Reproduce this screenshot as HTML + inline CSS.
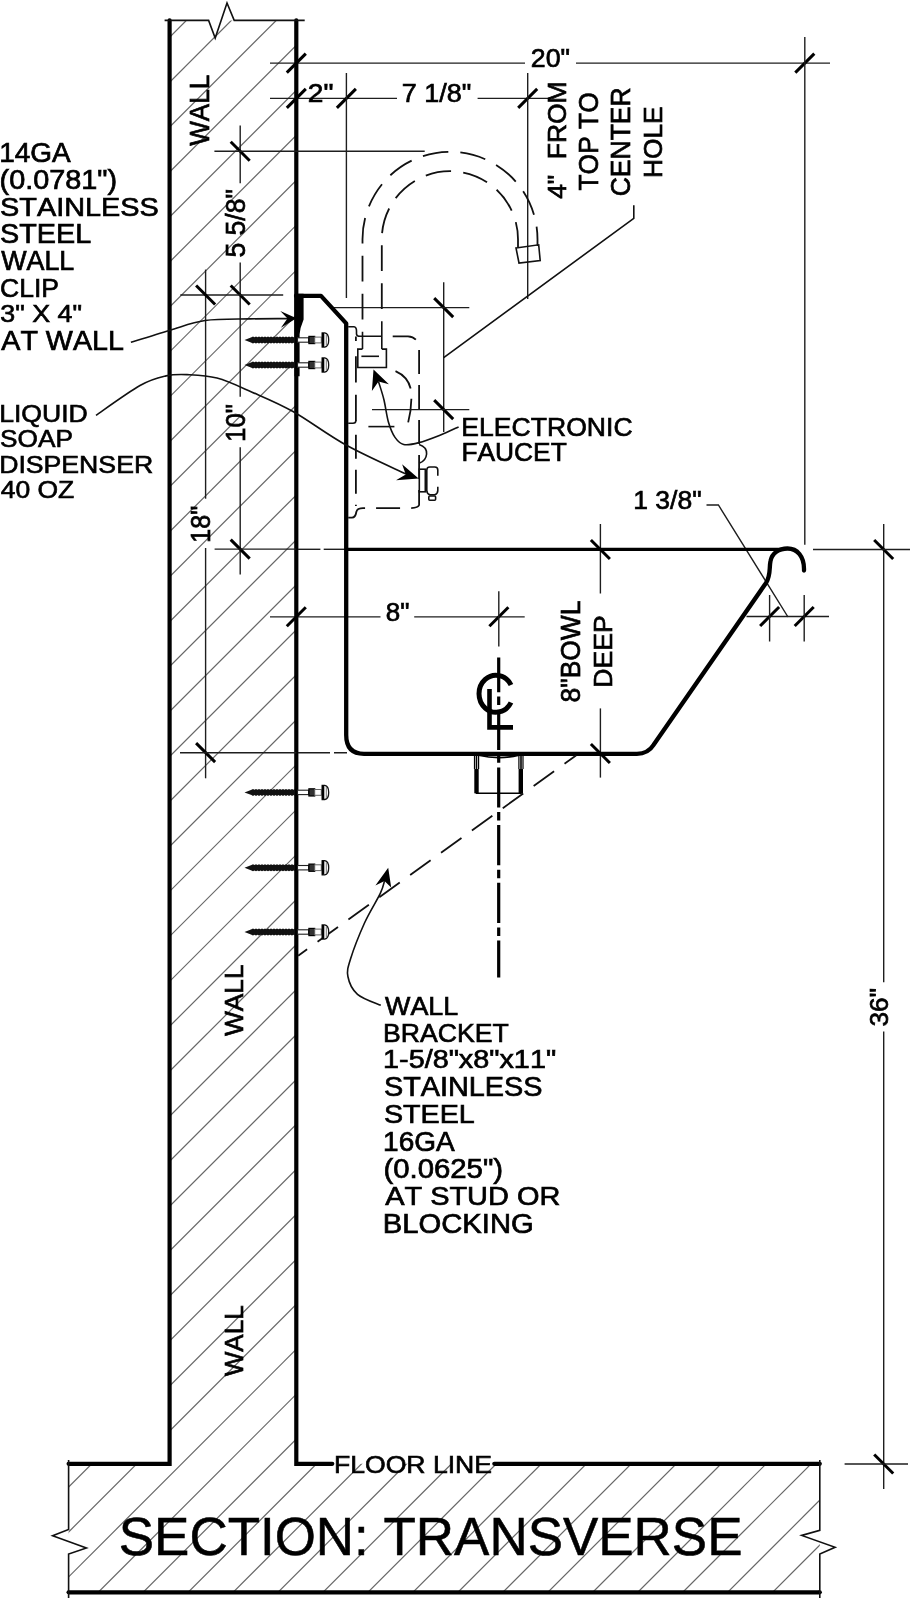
<!DOCTYPE html>
<html><head><meta charset="utf-8"><style>
html,body{margin:0;padding:0;background:#fff;width:910px;height:1600px;overflow:hidden;}
svg{display:block;filter:grayscale(100%);}
text{font-family:"Liberation Sans",sans-serif;fill:#000;stroke:#000;font-kerning:none;}
.t{stroke:#1e1e1e;stroke-width:1.4;fill:none;}
.h{stroke:#666;stroke-width:1.2;fill:none;}
.k{stroke:#000;stroke-width:3;fill:none;stroke-linecap:butt;}
.W{stroke:#000;stroke-width:4.2;fill:none;stroke-linejoin:miter;stroke-linecap:round;}
.S{stroke:#000;stroke-width:4.3;fill:none;stroke-linejoin:round;stroke-linecap:round;}
.d{stroke:#111;stroke-width:1.8;fill:none;}
.m{stroke:#111;stroke-width:1.6;fill:none;}
</style></head><body>
<svg width="910" height="1600" viewBox="0 0 910 1600">
<defs><clipPath id="hc"><polygon points="169.6,20.4 296.3,20.4 296.3,1463.8 819.8,1463.8 819.8,1592.3 68.6,1592.3 68.6,1463.8 169.6,1463.8"/></clipPath></defs>
<g clip-path="url(#hc)">
<line x1="0.0" y1="116.9" x2="910.0" y2="-793.1" class="h"/>
<line x1="0.0" y1="161.8" x2="910.0" y2="-748.2" class="h"/>
<line x1="0.0" y1="206.8" x2="910.0" y2="-703.2" class="h"/>
<line x1="0.0" y1="251.8" x2="910.0" y2="-658.2" class="h"/>
<line x1="0.0" y1="296.7" x2="910.0" y2="-613.3" class="h"/>
<line x1="0.0" y1="341.7" x2="910.0" y2="-568.3" class="h"/>
<line x1="0.0" y1="386.6" x2="910.0" y2="-523.4" class="h"/>
<line x1="0.0" y1="431.6" x2="910.0" y2="-478.4" class="h"/>
<line x1="0.0" y1="476.6" x2="910.0" y2="-433.4" class="h"/>
<line x1="0.0" y1="521.5" x2="910.0" y2="-388.5" class="h"/>
<line x1="0.0" y1="566.5" x2="910.0" y2="-343.5" class="h"/>
<line x1="0.0" y1="611.4" x2="910.0" y2="-298.6" class="h"/>
<line x1="0.0" y1="656.4" x2="910.0" y2="-253.6" class="h"/>
<line x1="0.0" y1="701.4" x2="910.0" y2="-208.6" class="h"/>
<line x1="0.0" y1="746.3" x2="910.0" y2="-163.7" class="h"/>
<line x1="0.0" y1="791.3" x2="910.0" y2="-118.7" class="h"/>
<line x1="0.0" y1="836.2" x2="910.0" y2="-73.8" class="h"/>
<line x1="0.0" y1="881.2" x2="910.0" y2="-28.8" class="h"/>
<line x1="0.0" y1="926.2" x2="910.0" y2="16.2" class="h"/>
<line x1="0.0" y1="971.1" x2="910.0" y2="61.1" class="h"/>
<line x1="0.0" y1="1016.1" x2="910.0" y2="106.1" class="h"/>
<line x1="0.0" y1="1061.0" x2="910.0" y2="151.0" class="h"/>
<line x1="0.0" y1="1106.0" x2="910.0" y2="196.0" class="h"/>
<line x1="0.0" y1="1151.0" x2="910.0" y2="241.0" class="h"/>
<line x1="0.0" y1="1195.9" x2="910.0" y2="285.9" class="h"/>
<line x1="0.0" y1="1240.9" x2="910.0" y2="330.9" class="h"/>
<line x1="0.0" y1="1285.8" x2="910.0" y2="375.8" class="h"/>
<line x1="0.0" y1="1330.8" x2="910.0" y2="420.8" class="h"/>
<line x1="0.0" y1="1375.8" x2="910.0" y2="465.8" class="h"/>
<line x1="0.0" y1="1420.7" x2="910.0" y2="510.7" class="h"/>
<line x1="0.0" y1="1465.7" x2="910.0" y2="555.7" class="h"/>
<line x1="0.0" y1="1510.6" x2="910.0" y2="600.6" class="h"/>
<line x1="0.0" y1="1555.6" x2="910.0" y2="645.6" class="h"/>
<line x1="0.0" y1="1600.6" x2="910.0" y2="690.6" class="h"/>
<line x1="0.0" y1="1645.5" x2="910.0" y2="735.5" class="h"/>
<line x1="0.0" y1="1690.5" x2="910.0" y2="780.5" class="h"/>
<line x1="0.0" y1="1735.4" x2="910.0" y2="825.4" class="h"/>
<line x1="0.0" y1="1780.4" x2="910.0" y2="870.4" class="h"/>
<line x1="0.0" y1="1825.4" x2="910.0" y2="915.4" class="h"/>
<line x1="0.0" y1="1870.3" x2="910.0" y2="960.3" class="h"/>
<line x1="0.0" y1="1915.3" x2="910.0" y2="1005.3" class="h"/>
<line x1="0.0" y1="1960.2" x2="910.0" y2="1050.2" class="h"/>
<line x1="0.0" y1="2005.2" x2="910.0" y2="1095.2" class="h"/>
<line x1="0.0" y1="2050.2" x2="910.0" y2="1140.2" class="h"/>
<line x1="0.0" y1="2095.1" x2="910.0" y2="1185.1" class="h"/>
<line x1="0.0" y1="2140.1" x2="910.0" y2="1230.1" class="h"/>
<line x1="0.0" y1="2185.0" x2="910.0" y2="1275.0" class="h"/>
<line x1="0.0" y1="2230.0" x2="910.0" y2="1320.0" class="h"/>
<line x1="0.0" y1="2275.0" x2="910.0" y2="1365.0" class="h"/>
<line x1="0.0" y1="2319.9" x2="910.0" y2="1409.9" class="h"/>
<line x1="0.0" y1="2364.9" x2="910.0" y2="1454.9" class="h"/>
<line x1="0.0" y1="2409.8" x2="910.0" y2="1499.8" class="h"/>
</g>
<path d="M169.6 20.4 V1463.8 H68.6" class="W"/>
<path d="M296.3 20.4 V1463.8 H332.3" class="W"/>
<path d="M494.3 1463.8 H819.8" class="W"/>
<path d="M68.6 1592.3 H819.8" class="W"/>
<path d="M164.6 20.4 H208.6 L215.2 38 L227 3 L234.2 20.4 H304.7" class="m"/>
<path d="M68.6 1460 V1529.5 L52.6 1535.8 L86.4 1548 L68.6 1554 V1598" class="m"/>
<path d="M819.8 1460 V1530.3 L801.7 1535.4 L835.1 1547.3 L819.8 1554.1 V1598" class="m"/>
<line x1="270.0" y1="63.1" x2="525.0" y2="63.1" class="t"/>
<line x1="576.0" y1="63.1" x2="830.0" y2="63.1" class="t"/>
<line x1="286.8" y1="72.6" x2="305.8" y2="53.6" class="k"/>
<line x1="795.3" y1="72.6" x2="814.3" y2="53.6" class="k"/>
<line x1="804.8" y1="37.0" x2="804.8" y2="544.7" class="t"/>
<line x1="270.0" y1="98.4" x2="397.0" y2="98.4" class="t"/>
<line x1="477.6" y1="98.4" x2="551.0" y2="98.4" class="t"/>
<line x1="286.8" y1="107.9" x2="305.8" y2="88.9" class="k"/>
<line x1="336.9" y1="107.9" x2="355.9" y2="88.9" class="k"/>
<line x1="518.2" y1="107.9" x2="537.2" y2="88.9" class="k"/>
<line x1="346.4" y1="73.0" x2="346.4" y2="298.0" class="t"/>
<line x1="527.7" y1="73.0" x2="527.7" y2="299.0" class="t"/>
<line x1="270.0" y1="616.9" x2="380.5" y2="616.9" class="t"/>
<line x1="414.2" y1="616.9" x2="524.7" y2="616.9" class="t"/>
<line x1="286.8" y1="626.3" x2="305.8" y2="607.3" class="k"/>
<line x1="489.4" y1="626.3" x2="508.4" y2="607.3" class="k"/>
<line x1="498.8" y1="591.3" x2="498.8" y2="646.4" class="t"/>
<line x1="746.5" y1="616.5" x2="829.0" y2="616.5" class="t"/>
<line x1="760.1" y1="626.0" x2="779.1" y2="607.0" class="k"/>
<line x1="794.7" y1="626.0" x2="813.7" y2="607.0" class="k"/>
<line x1="769.6" y1="595.0" x2="769.6" y2="641.5" class="t"/>
<line x1="804.2" y1="595.0" x2="804.2" y2="641.5" class="t"/>
<path d="M706.5 505 H718.4 L788 617" class="t"/>
<line x1="240.2" y1="125.4" x2="240.2" y2="183.3" class="t"/>
<line x1="240.2" y1="262.6" x2="240.2" y2="396.8" class="t"/>
<line x1="240.2" y1="447.2" x2="240.2" y2="574.5" class="t"/>
<line x1="230.7" y1="141.7" x2="249.7" y2="160.7" class="k"/>
<line x1="230.7" y1="285.5" x2="249.7" y2="304.5" class="k"/>
<line x1="230.7" y1="539.6" x2="249.7" y2="558.6" class="k"/>
<line x1="214.4" y1="151.2" x2="424.7" y2="151.2" class="t"/>
<line x1="180.3" y1="295.0" x2="283.2" y2="295.0" class="t"/>
<line x1="214.6" y1="549.1" x2="296.3" y2="549.1" class="t"/>
<line x1="298.0" y1="549.3" x2="320.4" y2="549.3" class="t"/>
<line x1="323.7" y1="549.3" x2="346.0" y2="549.3" class="t"/>
<line x1="205.6" y1="269.6" x2="205.6" y2="498.7" class="t"/>
<line x1="205.6" y1="548.0" x2="205.6" y2="778.3" class="t"/>
<line x1="196.1" y1="285.5" x2="215.1" y2="304.5" class="k"/>
<line x1="196.1" y1="743.1" x2="215.1" y2="762.1" class="k"/>
<line x1="180.0" y1="752.8" x2="296.3" y2="752.8" class="t"/>
<line x1="298" y1="752.8" x2="347" y2="752.8" class="t" stroke-dasharray="32 4"/>
<line x1="600.4" y1="524.0" x2="600.4" y2="593.5" class="t"/>
<line x1="600.4" y1="708.4" x2="600.4" y2="777.6" class="t"/>
<line x1="590.9" y1="540.0" x2="609.9" y2="559.0" class="k"/>
<line x1="590.9" y1="744.0" x2="609.9" y2="763.0" class="k"/>
<line x1="883.7" y1="524.0" x2="883.7" y2="982.3" class="t"/>
<line x1="883.7" y1="1031.5" x2="883.7" y2="1489.0" class="t"/>
<line x1="874.2" y1="540.0" x2="893.2" y2="559.0" class="k"/>
<line x1="874.2" y1="1454.5" x2="893.2" y2="1473.5" class="k"/>
<line x1="813.0" y1="549.5" x2="910.0" y2="549.5" class="t"/>
<line x1="844.6" y1="1464.0" x2="908.0" y2="1464.0" class="t"/>
<line x1="443.7" y1="282.3" x2="443.7" y2="431.9" class="t"/>
<line x1="434.2" y1="298.1" x2="453.2" y2="317.1" class="k"/>
<line x1="434.2" y1="400.1" x2="453.2" y2="419.1" class="k"/>
<line x1="334.0" y1="307.6" x2="469.3" y2="307.6" class="t"/>
<line x1="372.0" y1="409.6" x2="469.3" y2="409.6" class="t"/>
<path d="M296 295.9 H321 L346.2 323.4 V735 Q346.2 753.8 364 753.8 H636.9 Q648 753.8 653.8 744.6 L766 583 C771 575 769 568 770.5 561 C772 553 779 548.5 787.5 548.5 C797 548.5 804.5 556 804 570.5" class="S"/>
<path d="M346.2 549.3 H782" class="S" style="stroke-width:3.2"/>
<polygon points="294.5,293.8 303.6,293.8 303.6,319.4 300.6,328 299.6,334.3 299.6,376.3 294.5,376.3" fill="#000"/>
<line x1="498.7" y1="657.6" x2="498.7" y2="977.6" stroke="#000" stroke-width="3.2" stroke-dasharray="40.2 4.4 8.5 4.6" stroke-dashoffset="5.6"/>
<path d="M511 685 A17 18.5 0 1 0 511 702.5" stroke="#000" stroke-width="5" fill="none"/>
<path d="M489.5 689 V727.4 H513" stroke="#000" stroke-width="4.6" fill="none"/>
<g stroke="#000" fill="none">
<path d="M476.5 755 V793.3 H521 V755" stroke-width="1.6"/>
<rect x="474.3" y="769" width="4.4" height="24.3" fill="#000" stroke="none"/>
<rect x="518.6" y="769" width="4.4" height="24.3" fill="#000" stroke="none"/>
<path d="M474.5 755.5 V769 M478.6 755.5 V769 M518.9 755.5 V769 M523 755.5 V769" stroke-width="1.2"/>
<path d="M478.5 755.2 Q499 760 519 755.2" stroke-width="1.6"/>
</g>
<line x1="298.2" y1="955.7" x2="576" y2="755.4" class="d" stroke-dasharray="25.2 12.86" stroke-dashoffset="14.2"/>
<polygon points="244.5,340.0 251.5,337.3 253.0,336.5 254.5,337.3 256.0,336.5 257.5,337.3 259.0,336.5 260.5,337.3 262.0,336.5 263.5,337.3 265.0,336.5 266.5,337.3 268.0,336.5 269.5,337.3 271.0,336.5 272.5,337.3 274.0,336.5 275.5,337.3 277.0,336.5 278.5,337.3 280.0,336.5 281.5,337.3 283.0,336.5 284.5,337.3 286.0,336.5 287.5,337.3 289.0,336.5 290.5,337.3 292.0,336.5 293.5,337.3 295.0,336.5 295.0,337.0 295.0,343.0 295.0,343.5 293.5,342.7 292.0,343.5 290.5,342.7 289.0,343.5 287.5,342.7 286.0,343.5 284.5,342.7 283.0,343.5 281.5,342.7 280.0,343.5 278.5,342.7 277.0,343.5 275.5,342.7 274.0,343.5 272.5,342.7 271.0,343.5 269.5,342.7 268.0,343.5 266.5,342.7 265.0,343.5 263.5,342.7 262.0,343.5 260.5,342.7 259.0,343.5 257.5,342.7 256.0,343.5 254.5,342.7 253.0,343.5 251.5,342.7" fill="#111"/>
<rect x="297.5" y="337.8" width="11.2" height="4.4" fill="#fff" stroke="#222" stroke-width="1.1"/>
<rect x="308.9" y="336.4" width="5.8" height="7.2" fill="#333" stroke="#000" stroke-width="1.2"/>
<rect x="314.7" y="337.1" width="6.6" height="5.8" fill="#fff" stroke="#666" stroke-width="1"/>
<path d="M322.2 332.9 H324.8 Q328.7 333.6 328.7 340.0 Q328.7 346.4 324.8 347.1 H322.2 Z" fill="#fff" stroke="#111" stroke-width="1.3"/>
<line x1="323.1" y1="333.0" x2="323.1" y2="347.0" stroke="#000" stroke-width="2.4"/>
<line x1="326.3" y1="334.5" x2="326.3" y2="345.5" stroke="#777" stroke-width="1"/>
<polygon points="244.5,365.0 251.5,362.3 253.0,361.5 254.5,362.3 256.0,361.5 257.5,362.3 259.0,361.5 260.5,362.3 262.0,361.5 263.5,362.3 265.0,361.5 266.5,362.3 268.0,361.5 269.5,362.3 271.0,361.5 272.5,362.3 274.0,361.5 275.5,362.3 277.0,361.5 278.5,362.3 280.0,361.5 281.5,362.3 283.0,361.5 284.5,362.3 286.0,361.5 287.5,362.3 289.0,361.5 290.5,362.3 292.0,361.5 293.5,362.3 295.0,361.5 295.0,362.0 295.0,368.0 295.0,368.5 293.5,367.7 292.0,368.5 290.5,367.7 289.0,368.5 287.5,367.7 286.0,368.5 284.5,367.7 283.0,368.5 281.5,367.7 280.0,368.5 278.5,367.7 277.0,368.5 275.5,367.7 274.0,368.5 272.5,367.7 271.0,368.5 269.5,367.7 268.0,368.5 266.5,367.7 265.0,368.5 263.5,367.7 262.0,368.5 260.5,367.7 259.0,368.5 257.5,367.7 256.0,368.5 254.5,367.7 253.0,368.5 251.5,367.7" fill="#111"/>
<rect x="297.5" y="362.8" width="11.2" height="4.4" fill="#fff" stroke="#222" stroke-width="1.1"/>
<rect x="308.9" y="361.4" width="5.8" height="7.2" fill="#333" stroke="#000" stroke-width="1.2"/>
<rect x="314.7" y="362.1" width="6.6" height="5.8" fill="#fff" stroke="#666" stroke-width="1"/>
<path d="M322.2 357.9 H324.8 Q328.7 358.6 328.7 365.0 Q328.7 371.4 324.8 372.1 H322.2 Z" fill="#fff" stroke="#111" stroke-width="1.3"/>
<line x1="323.1" y1="358.0" x2="323.1" y2="372.0" stroke="#000" stroke-width="2.4"/>
<line x1="326.3" y1="359.5" x2="326.3" y2="370.5" stroke="#777" stroke-width="1"/>
<polygon points="244.5,792.4 251.5,789.7 253.0,788.9 254.5,789.7 256.0,788.9 257.5,789.7 259.0,788.9 260.5,789.7 262.0,788.9 263.5,789.7 265.0,788.9 266.5,789.7 268.0,788.9 269.5,789.7 271.0,788.9 272.5,789.7 274.0,788.9 275.5,789.7 277.0,788.9 278.5,789.7 280.0,788.9 281.5,789.7 283.0,788.9 284.5,789.7 286.0,788.9 287.5,789.7 289.0,788.9 290.5,789.7 292.0,788.9 293.5,789.7 295.0,788.9 295.0,789.4 295.0,795.4 295.0,795.9 293.5,795.1 292.0,795.9 290.5,795.1 289.0,795.9 287.5,795.1 286.0,795.9 284.5,795.1 283.0,795.9 281.5,795.1 280.0,795.9 278.5,795.1 277.0,795.9 275.5,795.1 274.0,795.9 272.5,795.1 271.0,795.9 269.5,795.1 268.0,795.9 266.5,795.1 265.0,795.9 263.5,795.1 262.0,795.9 260.5,795.1 259.0,795.9 257.5,795.1 256.0,795.9 254.5,795.1 253.0,795.9 251.5,795.1" fill="#111"/>
<rect x="297.5" y="790.2" width="11.2" height="4.4" fill="#fff" stroke="#222" stroke-width="1.1"/>
<rect x="308.9" y="788.8" width="5.8" height="7.2" fill="#333" stroke="#000" stroke-width="1.2"/>
<rect x="314.7" y="789.5" width="6.6" height="5.8" fill="#fff" stroke="#666" stroke-width="1"/>
<path d="M322.2 785.3 H324.8 Q328.7 786.0 328.7 792.4 Q328.7 798.8 324.8 799.5 H322.2 Z" fill="#fff" stroke="#111" stroke-width="1.3"/>
<line x1="323.1" y1="785.4" x2="323.1" y2="799.4" stroke="#000" stroke-width="2.4"/>
<line x1="326.3" y1="786.9" x2="326.3" y2="797.9" stroke="#777" stroke-width="1"/>
<polygon points="244.5,867.7 251.5,865.0 253.0,864.2 254.5,865.0 256.0,864.2 257.5,865.0 259.0,864.2 260.5,865.0 262.0,864.2 263.5,865.0 265.0,864.2 266.5,865.0 268.0,864.2 269.5,865.0 271.0,864.2 272.5,865.0 274.0,864.2 275.5,865.0 277.0,864.2 278.5,865.0 280.0,864.2 281.5,865.0 283.0,864.2 284.5,865.0 286.0,864.2 287.5,865.0 289.0,864.2 290.5,865.0 292.0,864.2 293.5,865.0 295.0,864.2 295.0,864.7 295.0,870.7 295.0,871.2 293.5,870.4 292.0,871.2 290.5,870.4 289.0,871.2 287.5,870.4 286.0,871.2 284.5,870.4 283.0,871.2 281.5,870.4 280.0,871.2 278.5,870.4 277.0,871.2 275.5,870.4 274.0,871.2 272.5,870.4 271.0,871.2 269.5,870.4 268.0,871.2 266.5,870.4 265.0,871.2 263.5,870.4 262.0,871.2 260.5,870.4 259.0,871.2 257.5,870.4 256.0,871.2 254.5,870.4 253.0,871.2 251.5,870.4" fill="#111"/>
<rect x="297.5" y="865.5" width="11.2" height="4.4" fill="#fff" stroke="#222" stroke-width="1.1"/>
<rect x="308.9" y="864.1" width="5.8" height="7.2" fill="#333" stroke="#000" stroke-width="1.2"/>
<rect x="314.7" y="864.8" width="6.6" height="5.8" fill="#fff" stroke="#666" stroke-width="1"/>
<path d="M322.2 860.6 H324.8 Q328.7 861.3 328.7 867.7 Q328.7 874.1 324.8 874.8 H322.2 Z" fill="#fff" stroke="#111" stroke-width="1.3"/>
<line x1="323.1" y1="860.7" x2="323.1" y2="874.7" stroke="#000" stroke-width="2.4"/>
<line x1="326.3" y1="862.2" x2="326.3" y2="873.2" stroke="#777" stroke-width="1"/>
<polygon points="244.5,932.0 251.5,929.3 253.0,928.5 254.5,929.3 256.0,928.5 257.5,929.3 259.0,928.5 260.5,929.3 262.0,928.5 263.5,929.3 265.0,928.5 266.5,929.3 268.0,928.5 269.5,929.3 271.0,928.5 272.5,929.3 274.0,928.5 275.5,929.3 277.0,928.5 278.5,929.3 280.0,928.5 281.5,929.3 283.0,928.5 284.5,929.3 286.0,928.5 287.5,929.3 289.0,928.5 290.5,929.3 292.0,928.5 293.5,929.3 295.0,928.5 295.0,929.0 295.0,935.0 295.0,935.5 293.5,934.7 292.0,935.5 290.5,934.7 289.0,935.5 287.5,934.7 286.0,935.5 284.5,934.7 283.0,935.5 281.5,934.7 280.0,935.5 278.5,934.7 277.0,935.5 275.5,934.7 274.0,935.5 272.5,934.7 271.0,935.5 269.5,934.7 268.0,935.5 266.5,934.7 265.0,935.5 263.5,934.7 262.0,935.5 260.5,934.7 259.0,935.5 257.5,934.7 256.0,935.5 254.5,934.7 253.0,935.5 251.5,934.7" fill="#111"/>
<rect x="297.5" y="929.8" width="11.2" height="4.4" fill="#fff" stroke="#222" stroke-width="1.1"/>
<rect x="308.9" y="928.4" width="5.8" height="7.2" fill="#333" stroke="#000" stroke-width="1.2"/>
<rect x="314.7" y="929.1" width="6.6" height="5.8" fill="#fff" stroke="#666" stroke-width="1"/>
<path d="M322.2 924.9 H324.8 Q328.7 925.6 328.7 932.0 Q328.7 938.4 324.8 939.1 H322.2 Z" fill="#fff" stroke="#111" stroke-width="1.3"/>
<line x1="323.1" y1="925.0" x2="323.1" y2="939.0" stroke="#000" stroke-width="2.4"/>
<line x1="326.3" y1="926.5" x2="326.3" y2="937.5" stroke="#777" stroke-width="1"/>
<path d="M362.5 331.8 V239.3 A87.5 87.5 0 0 1 537.5 239.3 V246" class="d" stroke-dasharray="25.8 12.2" stroke-dashoffset="25.8"/>
<path d="M381.8 321.3 V239.3 A68.1 68.1 0 0 1 518 239.3 V247" class="d" stroke-dasharray="25.8 12.2" stroke-dashoffset="25.8"/>
<polygon points="516,248 538.7,244.8 540.2,260.6 519,263" class="m"/>
<path d="M348.2 326.8 H354 Q356.5 327 356.5 331 V334 Q356.5 336.3 360 336.3 H381.8" class="m"/>
<path d="M362.5 331.8 V349.1 M381.8 321.3 V349.1" class="m"/>
<path d="M362.5 349.1 H357.8 V367.5 H386.4 V349.1 H381.8" class="m"/>
<path d="M361.4 356.3 H379" class="m"/>
<path d="M392.7 336.4 H408 Q418 337 419.1 348 V505 Q418 508.2 408 508.2 H363 Q357 508.2 356.3 512 Q355.5 517.6 352 517.6 H348.2" class="d" stroke-dasharray="24 11"/>
<path d="M355.9 336.5 V421" class="d" stroke-dasharray="4.4 15.4 26.3 12.1 26.4 12.1"/>
<path d="M355.9 434.8 V506" class="d" stroke-dasharray="24 11"/>
<path d="M348.2 423.3 H353 Q355.9 423.3 355.9 420.5" class="m"/>
<path d="M395.5 371.1 Q411 378 411.4 395 Q411.6 412 406.8 427.1" class="d" stroke-dasharray="24 10"/>
<path d="M368.4 426.6 H394.4" class="m"/>
<path d="M419.1 444.5 Q427 447 426.6 454 Q426 461 419.1 463.2" class="m"/>
<rect x="419.3" y="469.2" width="6" height="22.6" class="m" fill="#fff"/>
<path d="M437.8 475.8 V470 Q437.8 467 434.8 467 H429.8 Q426.8 467 426.8 470 V490.4 Q426.8 493.4 429.8 494.8 H434.8 Q437.8 493.4 437.8 490.4 V486.8" class="m"/>
<rect x="428.8" y="496" width="6.8" height="4.2" rx="1" class="m" fill="#fff"/>
<path d="M130.9 342.3 C137.3 340.3 157.1 334.0 169.4 330.4 C181.8 326.8 191.6 322.4 205.0 320.5 C218.4 318.6 236.2 319.2 250.0 318.9 C263.8 318.6 281.7 318.7 288.0 318.6" class="m"/>
<polygon points="296.5,318.3 280.3,311.1 287.5,318.5 280.9,327.8" fill="#000"/>
<path d="M96.0 415.3 C103.3 410.3 128.3 392.1 140.0 385.5 C151.7 378.9 158.2 377.7 166.0 375.9 C173.8 374.1 178.5 374.2 187.0 374.6 C195.5 375.0 206.2 375.2 217.0 378.1 C227.8 381.0 238.8 386.3 251.5 391.9 C264.2 397.5 277.2 402.6 293.0 411.5 C308.8 420.4 327.2 434.6 346.0 445.0 C364.8 455.4 396.0 469.2 406.0 474.0" class="m"/>
<polygon points="418.6,478.6 402.1,464.3 405.8,474.5 396,480.2" fill="#000"/>
<path d="M458.6 426.9 C455.5 428.3 446.6 432.6 440.0 435.2 C433.4 437.8 425.1 441.1 419.0 442.6 C412.9 444.2 407.7 445.4 403.7 444.5 C399.7 443.6 397.6 441.1 395.0 437.4 C392.4 433.6 390.2 428.2 388.4 422.0 C386.6 415.8 385.6 406.8 384.0 400.0 C382.4 393.2 379.4 384.6 378.5 381.5" class="m"/>
<polygon points="373.5,369.5 371.9,390.9 378.5,381.5 388.9,384.3" fill="#000"/>
<path d="M380.8 1005.3 C376.9 1003.5 363.0 999.1 357.5 994.3 C352.0 989.5 349.0 982.4 347.9 976.5 C346.8 970.6 347.8 967.6 350.6 958.7 C353.4 949.8 359.6 933.9 364.5 923.0 C369.4 912.1 377.0 900.4 380.3 893.4 C383.6 886.4 383.8 883.1 384.5 881.0" class="m"/>
<polygon points="388.2,867.7 375.4,885.5 384.5,881 391.2,887.5" fill="#000"/>
<path d="M633.8 205.2 V218.3 L443.7 357.7" class="m"/>
<text transform="translate(-0.78,161.75) scale(1.0287,1)" font-size="27.17" stroke-width="0.71">14GA</text>
<text transform="translate(-0.44,188.65) scale(1.0616,1)" font-size="27.17" stroke-width="0.71">(0.0781&quot;)</text>
<text transform="translate(0.03,215.95) scale(1.0849,1)" font-size="26.61" stroke-width="0.69">STAINLESS</text>
<text transform="translate(0.04,243.25) scale(1.0645,1)" font-size="27.03" stroke-width="0.70">STEEL</text>
<text transform="translate(1.23,270.15) scale(1.0037,1)" font-size="26.75" stroke-width="0.70">WALL</text>
<text transform="translate(-0.01,296.86) scale(1.0127,1)" font-size="26.19" stroke-width="0.68">CLIP</text>
<text transform="translate(0.30,322.08) scale(1.0839,1)" font-size="24.79" stroke-width="0.64">3&quot; X 4&quot;</text>
<text transform="translate(1.30,349.75) scale(1.0600,1)" font-size="27.03" stroke-width="0.70">AT WALL</text>
<text transform="translate(-0.87,421.88) scale(1.0920,1)" font-size="24.37" stroke-width="0.63">LIQUID</text>
<text transform="translate(0.12,447.49) scale(1.0882,1)" font-size="24.09" stroke-width="0.63">SOAP</text>
<text transform="translate(-0.87,473.28) scale(1.0941,1)" font-size="24.37" stroke-width="0.63">DISPENSER</text>
<text transform="translate(0.70,497.89) scale(1.1260,1)" font-size="23.53" stroke-width="0.61">40 OZ</text>
<text transform="translate(461.35,435.97) scale(1.0371,1)" font-size="25.63" stroke-width="0.67">ELECTRONIC</text>
<text transform="translate(461.38,461.16) scale(1.0114,1)" font-size="26.05" stroke-width="0.68">FAUCET</text>
<text transform="translate(633.22,509.36) scale(1.0231,1)" font-size="25.91" stroke-width="0.67">1 3/8&quot;</text>
<text transform="translate(385.71,621.26) scale(0.9965,1)" font-size="26.05" stroke-width="0.68">8&quot;</text>
<text transform="translate(307.81,101.57) scale(1.1170,1)" font-size="25.21" stroke-width="0.66">2&quot;</text>
<text transform="translate(401.74,101.57) scale(1.0700,1)" font-size="25.21" stroke-width="0.66">7 1/8&quot;</text>
<text transform="translate(530.79,67.27) scale(1.0485,1)" font-size="25.49" stroke-width="0.66">20&quot;</text>
<text transform="translate(334.03,1473.09) scale(1.1161,1)" font-size="23.81" stroke-width="0.62">FLOOR LINE</text>
<text transform="translate(118.77,1554.73) scale(0.9729,1)" font-size="54.44" stroke-width="0.54">SECTION: TRANSVERSE</text>
<text transform="translate(385.11,1014.58) scale(1.0777,1)" font-size="24.93" stroke-width="0.65">WALL</text>
<text transform="translate(383.05,1041.57) scale(1.0452,1)" font-size="25.49" stroke-width="0.66">BRACKET</text>
<text transform="translate(383.03,1068.18) scale(1.1552,1)" font-size="24.93" stroke-width="0.65">1-5/8&quot;x8&quot;x11&quot;</text>
<text transform="translate(383.94,1095.65) scale(1.0715,1)" font-size="26.89" stroke-width="0.70">STAINLESS</text>
<text transform="translate(383.94,1123.16) scale(1.0952,1)" font-size="26.19" stroke-width="0.68">STEEL</text>
<text transform="translate(383.12,1150.55) scale(1.0411,1)" font-size="26.89" stroke-width="0.70">16GA</text>
<text transform="translate(383.43,1177.85) scale(1.0915,1)" font-size="26.89" stroke-width="0.70">(0.0625&quot;)</text>
<text transform="translate(385.18,1204.96) scale(1.1048,1)" font-size="26.19" stroke-width="0.68">AT STUD OR</text>
<text transform="translate(382.86,1233.05) scale(1.0800,1)" font-size="27.03" stroke-width="0.70">BLOCKING</text>
<text transform="translate(209.04,145.76) rotate(-90) scale(0.9458,1)" font-size="27.59" stroke-width="0.72">WALL</text>
<text transform="translate(242.76,1035.97) rotate(-90) scale(0.9919,1)" font-size="26.47" stroke-width="0.69">WALL</text>
<text transform="translate(242.76,1376.27) rotate(-90) scale(0.9848,1)" font-size="26.47" stroke-width="0.69">WALL</text>
<text transform="translate(244.65,257.61) rotate(-90) scale(0.9876,1)" font-size="26.89" stroke-width="0.70">5 5/8&quot;</text>
<text transform="translate(244.93,441.90) rotate(-90) scale(0.9138,1)" font-size="28.29" stroke-width="0.74">10&quot;</text>
<text transform="translate(210.34,542.75) rotate(-90) scale(0.9059,1)" font-size="27.73" stroke-width="0.72">18&quot;</text>
<text transform="translate(887.76,1026.45) rotate(-90) scale(0.9892,1)" font-size="26.47" stroke-width="0.69">36&quot;</text>
<text transform="translate(580.44,702.39) rotate(-90) scale(0.9530,1)" font-size="27.73" stroke-width="0.72">8&quot;BOWL</text>
<text transform="translate(611.67,687.65) rotate(-90) scale(1.0535,1)" font-size="25.21" stroke-width="0.66">DEEP</text>
<text transform="translate(565.95,198.86) rotate(-90) scale(0.9957,1)" font-size="26.61" stroke-width="0.69">4&quot;</text>
<text transform="translate(565.95,159.22) rotate(-90) scale(0.9937,1)" font-size="26.61" stroke-width="0.69">FROM</text>
<text transform="translate(598.05,190.54) rotate(-90) scale(0.9775,1)" font-size="27.03" stroke-width="0.70">TOP TO</text>
<text transform="translate(630.14,196.29) rotate(-90) scale(0.9614,1)" font-size="27.59" stroke-width="0.72">CENTER</text>
<text transform="translate(662.35,178.12) rotate(-90) scale(0.9909,1)" font-size="26.61" stroke-width="0.69">HOLE</text>
</svg></body></html>
